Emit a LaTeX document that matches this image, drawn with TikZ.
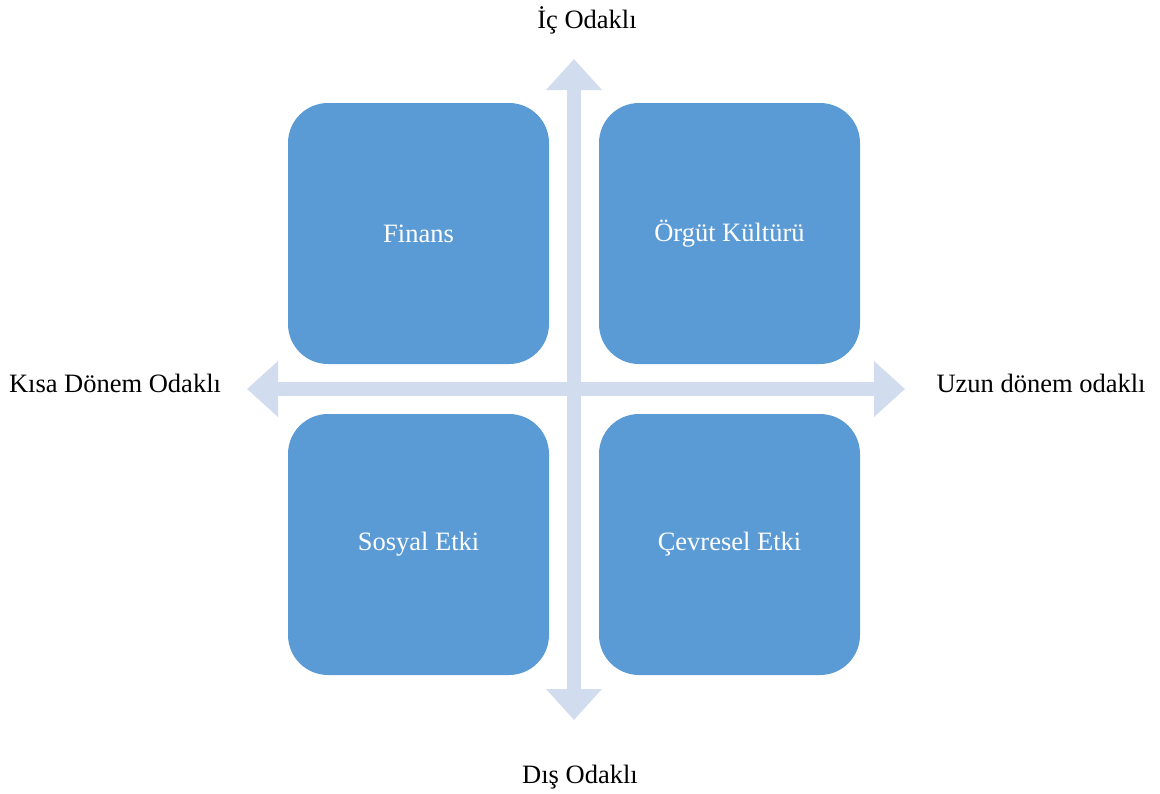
\documentclass[tikz,border=0pt]{standalone}
\usepackage{fontspec}
\setmainfont{Liberation Serif}
\usetikzlibrary{arrows.meta}
\definecolor{quadblue}{RGB}{91,155,213}
\definecolor{axisblue}{RGB}{209,220,239}
\begin{document}
\begin{tikzpicture}[x=1pt, y=-1pt,
		quad/.style={rectangle, fill=quadblue, rounded corners=40pt, text centered, text=white, 
		minimum width=261pt, minimum height=261pt, font=\fontsize{26.5}{30}\selectfont},
		axislabel/.style={font=\fontsize{26.5}{30}\selectfont},
		axis/.style={draw=axisblue, line width=14pt, 
		{Triangle[width=54pt, length=31pt]}-{Triangle[width=54pt, length=31pt]}}]
		
		\useasboundingbox (0,0) rectangle (1160,793);
		
		%Axes
		\coordinate (top) at (574,59);
		\coordinate (bottom) at (574,720);
		\coordinate (left) at (247,389);
		\coordinate (right) at (905,389);
		
		\draw[axis] (left) to (right);
		\draw[axis] (top) to (bottom);
		
		%Quadrants
		\node (finance) at (418.5,233.5) [quad]{Finans};
		\node (culture) at (729.5,233.5) [quad]{Örgüt Kültürü};
		\node (social) at (418.5,544.5) [quad]{Sosyal Etki};
		\node (environment) at (729.5,544.5) [quad]{Çevresel Etki};
		
		%Axis labels
		\node (internal) at (587,20) [axislabel]{İç Odaklı};
		\node (external) at (580,777) [axislabel]{Dış Odaklı};
		\node (short) at (115,383) [axislabel]{Kısa Dönem Odaklı};
		\node (long) at (1041,383) [axislabel]{Uzun dönem odaklı};
		
\end{tikzpicture}
\end{document}
